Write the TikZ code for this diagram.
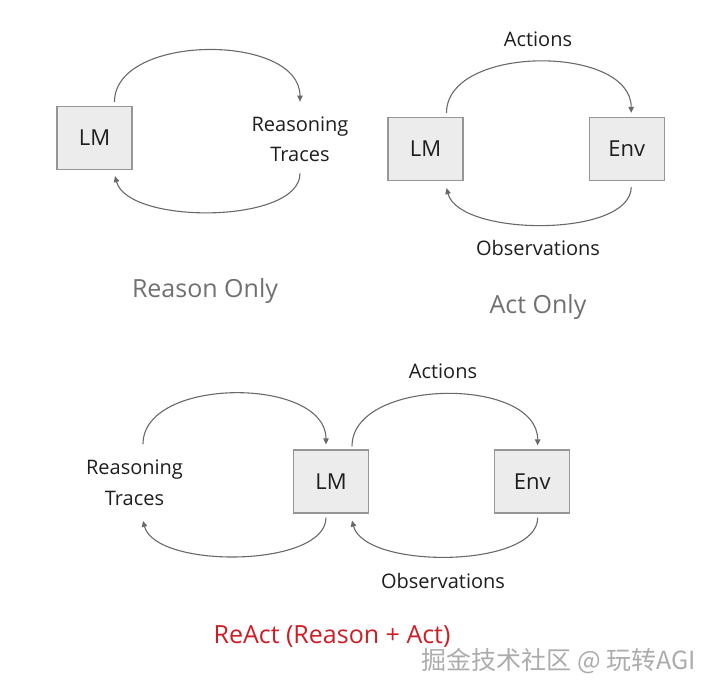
\documentclass[tikz,border=0pt]{standalone}
\usepackage{fontspec}
\setsansfont{Open Sans}
\newfontfamily\cjkfont{Noto Sans CJK SC}
\usetikzlibrary{positioning, arrows.meta}
\definecolor{boxgray}{RGB}{236,236,236}
\definecolor{edgegray}{RGB}{150,150,150}
\definecolor{linegray}{RGB}{105,105,105}
\definecolor{titlegray}{RGB}{112,112,112}
\definecolor{reactred}{RGB}{205,30,38}
\definecolor{txtblack}{RGB}{30,30,30}

\begin{document}
\begin{tikzpicture}[x=1pt, y=1pt,
  >={Triangle[length=6pt,width=5.5pt]}, font=\sffamily,
  box/.style={rectangle, draw=edgegray, fill=boxgray, line width=1.2pt,
    minimum width=75pt, minimum height=63pt, text=txtblack,
    font=\sffamily\fontsize{22}{26}\selectfont},
  lbl/.style={align=center, inner sep=0pt, text=txtblack,
    font=\sffamily\fontsize{20}{30.5}\selectfont},
  title/.style={inner sep=0pt, font=\sffamily\fontsize{25}{30}\selectfont},
  flow/.style={->, linegray, line width=1.1pt},
  upper/.style={out=90, in=90, looseness=0.95},
  lower/.style={out=-90, in=-75, looseness=0.7}
]
\useasboundingbox (0,0) rectangle (718,696);

\node[box] (lmA) at (94.5,558) {LM};
\node[lbl] (rtA) at (300,556.5) {Reasoning\\Traces};
\node[title, text=titlegray] (ttlA) at (205,405) {Reason Only};

\draw[flow] ([xshift=20pt,yshift=4pt]lmA.north) to[upper]
  ([yshift=15pt]rtA.north);
\draw[flow] ([yshift=-11pt]rtA.south) to[lower]
  ([xshift=20.5pt,yshift=-6pt]lmA.south);

\node[box] (lmB) at (425.5,547) {LM};
\node[box, right=125pt of lmB] (envB) {Env};
\node[lbl] (actB) at (538,657) {Actions};
\node[lbl] (obsB) at (538,448) {Observations};
\node[title, text=titlegray] (ttlB) at (538,389) {Act Only};

\draw[flow] ([xshift=21pt,yshift=4pt]lmB.north) to[upper]
  ([xshift=4.5pt,yshift=4pt]envB.north);
\draw[flow] ([xshift=4.5pt,yshift=-6pt]envB.south) to[lower]
  ([xshift=21pt,yshift=-7pt]lmB.south);

\node[box] (lmC) at (331,214.5) {LM};
\node[box, right=125pt of lmC] (envC) {Env};
\node[lbl] (rtC) at (134.5,213) {Reasoning\\Traces};
\node[lbl] (actC) at (443,325) {Actions};
\node[lbl] (obsC) at (443,115) {Observations};
\node[title, text=reactred] (ttlC) at (332,59) {ReAct (Reason + Act)};

\draw[flow] ([xshift=8.5pt,yshift=16pt]rtC.north) to[upper]
  ([xshift=-5pt,yshift=5pt]lmC.north);
\draw[flow] ([xshift=-5pt,yshift=-4pt]lmC.south) to[lower]
  ([xshift=8.5pt,yshift=-15pt]rtC.south);
\draw[flow] ([xshift=21pt,yshift=3pt]lmC.north) to[upper]
  ([xshift=5.5pt,yshift=4pt]envC.north);
\draw[flow] ([xshift=5.5pt,yshift=-4pt]envC.south) to[lower]
  ([xshift=21pt,yshift=-7pt]lmC.south);

\node[inner sep=0pt, text=gray!65, font=\cjkfont\fontsize{25}{30}\selectfont]
  (mark) at (559,35) {掘金技术社区 @ 玩转AGI};
\end{tikzpicture}
\end{document}
